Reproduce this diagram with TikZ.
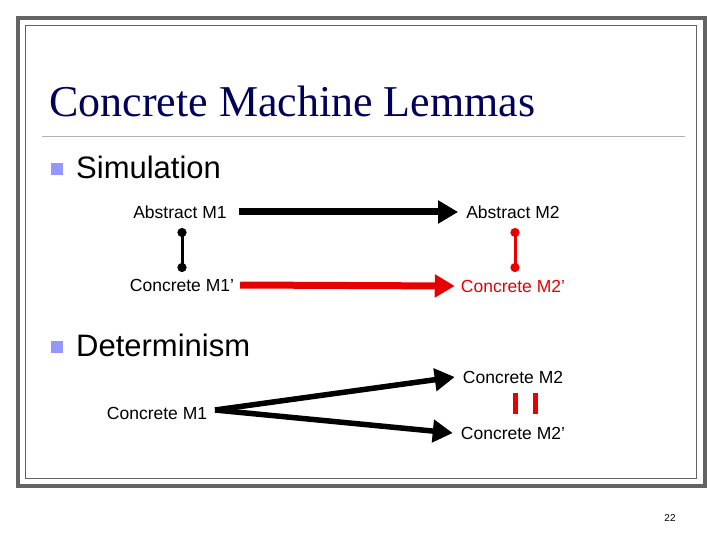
\documentclass[tikz,border=0pt]{standalone}
\usepackage{fontspec}
\setmainfont{Liberation Sans}
\newfontfamily\titlefont{Liberation Serif}
\usetikzlibrary{arrows.meta}
\definecolor{navy}{RGB}{0,0,90}
\definecolor{bul}{RGB}{150,150,255}
\definecolor{fr}{RGB}{100,100,100}
\definecolor{myred}{RGB}{230,0,0}
\begin{document}
\begin{tikzpicture}[x=1pt,y=-1pt,
  lab/.style={font=\fontsize{17.5}{20}\selectfont,inner sep=0pt,anchor=center},
  big/.style={font=\fontsize{31}{34}\selectfont,inner sep=0pt,anchor=west},
  bigarrow/.style={line width=7pt,-{Triangle[length=20pt,width=22pt]}},
  dotline/.style={line width=3pt,{Circle[length=9pt]}-{Circle[length=9pt]}},
  bullet/.style={fill=bul,minimum size=12pt,inner sep=0pt}]
\useasboundingbox (0,0) rectangle (720,540);
\fill[white] (0,0) rectangle (720,540);
\draw[fr,line width=4pt] (18,18) rectangle (705,486);
\draw[fr,line width=0.8pt] (25,25) rectangle (696,478);
\draw[gray!60,line width=0.8pt] (42,136) -- (685,136);
\node[font=\titlefont\fontsize{44}{48}\selectfont,text=navy,anchor=west,inner sep=0pt] (title) at (49,101) {Concrete Machine Lemmas};
\node[bullet] (b1) at (57,169) {};
\node[big] (sim) at (76,167) {Simulation};
\node[bullet] (b2) at (57,347) {};
\node[big] (det) at (76,345) {Determinism};
\node[lab] (a1) at (180,212) {Abstract M1};
\node[lab] (a2) at (513,212) {Abstract M2};
\node[lab] (c1) at (182,285) {Concrete M1’};
\node[lab,text=myred] (c2) at (513,286) {Concrete M2’};
\draw[bigarrow] ([xshift=12pt]a1.east) -- ([xshift=-8pt]a2.west);
\draw[bigarrow,myred] ([xshift=6pt]c1.east) -- ([xshift=-6pt]c2.west);
\coordinate (v1t) at (182,228); \coordinate (v1b) at (182,272);
\draw[dotline] (v1t) -- (v1b);
\coordinate (v2t) at (515,228); \coordinate (v2b) at (515,272);
\draw[dotline,myred] (v2t) -- (v2b);
\node[lab] (d1) at (157,413) {Concrete M1};
\node[lab] (d2) at (513,377) {Concrete M2};
\node[lab] (d3) at (513,433) {Concrete M2’};
\coordinate (o) at (215,410);
\draw[bigarrow,line width=5.5pt] (o) -- ([xshift=-8pt]d2.west);
\draw[bigarrow,line width=5.5pt] (o) -- ([xshift=-8pt]d3.west);
\coordinate (e1t) at (515,393); \coordinate (e1b) at (515,414);
\coordinate (e2t) at (535,393); \coordinate (e2b) at (535,414);
\draw[myred,line width=5pt] (e1t) -- (e1b);
\draw[myred,line width=5pt] (e2t) -- (e2b);
\node[font=\fontsize{10}{12}\selectfont,inner sep=0pt] (pg) at (670,518) {22};
\end{tikzpicture}
\end{document}
